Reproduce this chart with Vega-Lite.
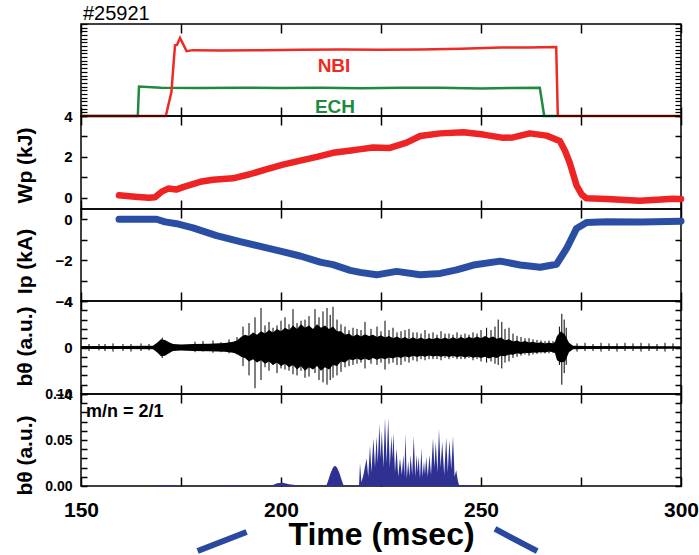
{
  "$schema": "https://vega.github.io/schema/vega-lite/v6.json",
  "padding": {"left": 13, "top": 3, "right": 0, "bottom": 0},
  "spacing": 0,
  "bounds": "flush",
  "config": {
    "font": "Liberation Sans",
    "view": {"stroke": "black", "strokeWidth": 1.5},
    "axis": {"grid": false, "domain": false, "tickColor": "black", "tickWidth": 1.5, "labelColor": "black", "titleColor": "black", "labelFont": "Liberation Sans", "titleFont": "Liberation Sans", "labelFontWeight": "bold", "titleFontWeight": "bold", "labelOverlap": false, "labelFlush": false}
  },
  "datasets": {
    "inj": [
      {"s": "ECH", "t": 150, "p": 0}, {"s": "ECH", "t": 164.2, "p": 0}, {"s": "ECH", "t": 164.5, "p": 8.0}, {"s": "ECH", "t": 170, "p": 7.7}, {"s": "ECH", "t": 180, "p": 7.6}, {"s": "ECH", "t": 190, "p": 7.7}, {"s": "ECH", "t": 200, "p": 7.6}, {"s": "ECH", "t": 210, "p": 7.65}, {"s": "ECH", "t": 220, "p": 7.55}, {"s": "ECH", "t": 230, "p": 7.7}, {"s": "ECH", "t": 240, "p": 7.65}, {"s": "ECH", "t": 250, "p": 7.5}, {"s": "ECH", "t": 257, "p": 7.6}, {"s": "ECH", "t": 264.7, "p": 7.7}, {"s": "ECH", "t": 265.8, "p": 0}, {"s": "ECH", "t": 268.8, "p": 0},
      {"s": "NBI", "t": 150, "p": 0}, {"s": "NBI", "t": 171.2, "p": 0}, {"s": "NBI", "t": 172.6, "p": 6.5}, {"s": "NBI", "t": 173.5, "p": 19.2}, {"s": "NBI", "t": 174.0, "p": 19.3}, {"s": "NBI", "t": 174.75, "p": 21.2}, {"s": "NBI", "t": 175.5, "p": 19.6}, {"s": "NBI", "t": 176.4, "p": 17.6}, {"s": "NBI", "t": 178, "p": 17.9}, {"s": "NBI", "t": 185, "p": 17.8}, {"s": "NBI", "t": 195, "p": 17.9}, {"s": "NBI", "t": 205, "p": 18.0}, {"s": "NBI", "t": 215, "p": 18.1}, {"s": "NBI", "t": 225, "p": 18.0}, {"s": "NBI", "t": 235, "p": 18.1}, {"s": "NBI", "t": 245, "p": 18.3}, {"s": "NBI", "t": 255, "p": 18.6}, {"s": "NBI", "t": 262, "p": 18.6}, {"s": "NBI", "t": 268.8, "p": 18.75}, {"s": "NBI", "t": 269.2, "p": 0}, {"s": "NBI", "t": 300, "p": 0}
    ],
    "injlab": [
      {"s": "NBI", "t": 213.25, "p": 13.6},
      {"s": "ECH", "t": 213.5, "p": 2.36}
    ],
    "wp": [
      {"t": 159.5, "v": 0.12}, {"t": 163.5, "v": 0.05}, {"t": 167, "v": 0.0}, {"t": 168.5, "v": 0.02}, {"t": 170.2, "v": 0.3}, {"t": 171.8, "v": 0.45}, {"t": 173.8, "v": 0.4}, {"t": 175.5, "v": 0.52}, {"t": 179.8, "v": 0.78}, {"t": 183, "v": 0.88}, {"t": 188, "v": 0.95}, {"t": 192.2, "v": 1.15}, {"t": 196.5, "v": 1.4}, {"t": 200.5, "v": 1.62}, {"t": 204.8, "v": 1.82}, {"t": 209, "v": 2.0}, {"t": 213, "v": 2.2}, {"t": 217, "v": 2.3}, {"t": 220, "v": 2.38}, {"t": 223, "v": 2.46}, {"t": 227.2, "v": 2.44}, {"t": 231.4, "v": 2.7}, {"t": 234.8, "v": 3.02}, {"t": 239.8, "v": 3.15}, {"t": 245.6, "v": 3.2}, {"t": 250.6, "v": 3.09}, {"t": 255.6, "v": 2.93}, {"t": 258, "v": 2.95}, {"t": 262.2, "v": 3.15}, {"t": 266.4, "v": 3.04}, {"t": 269.7, "v": 2.78}, {"t": 271, "v": 2.3}, {"t": 272.2, "v": 1.7}, {"t": 273.9, "v": 0.6}, {"t": 275.2, "v": 0.15}, {"t": 276.4, "v": -0.03}, {"t": 281.4, "v": -0.06}, {"t": 285, "v": -0.1}, {"t": 289.7, "v": -0.15}, {"t": 294, "v": -0.1}, {"t": 298, "v": -0.05}, {"t": 300, "v": -0.06}
    ],
    "ip": [
      {"t": 159.5, "v": 0}, {"t": 165, "v": 0}, {"t": 168.9, "v": 0}, {"t": 171, "v": -0.13}, {"t": 173.9, "v": -0.22}, {"t": 178, "v": -0.42}, {"t": 183.9, "v": -0.8}, {"t": 189.8, "v": -1.1}, {"t": 196.4, "v": -1.4}, {"t": 200.6, "v": -1.6}, {"t": 204.8, "v": -1.8}, {"t": 209.8, "v": -2.1}, {"t": 213, "v": -2.22}, {"t": 217.3, "v": -2.5}, {"t": 219.8, "v": -2.6}, {"t": 223.9, "v": -2.72}, {"t": 228.9, "v": -2.55}, {"t": 234.8, "v": -2.72}, {"t": 239.8, "v": -2.65}, {"t": 243.9, "v": -2.48}, {"t": 248.1, "v": -2.24}, {"t": 254.8, "v": -2.05}, {"t": 259.8, "v": -2.24}, {"t": 264.8, "v": -2.35}, {"t": 268.9, "v": -2.2}, {"t": 271.4, "v": -1.43}, {"t": 273.9, "v": -0.45}, {"t": 276.4, "v": -0.16}, {"t": 281.4, "v": -0.12}, {"t": 290, "v": -0.13}, {"t": 300, "v": -0.1}
    ],
    "bth": [
      {"t": 150, "lo": -0.12, "hi": 0.12}, {"t": 160, "lo": -0.12, "hi": 0.12}, {"t": 168, "lo": -0.15, "hi": 0.15}, {"t": 169, "lo": -0.4, "hi": 0.4}, {"t": 170, "lo": -0.75, "hi": 0.7}, {"t": 171, "lo": -0.7, "hi": 0.65}, {"t": 172, "lo": -0.5, "hi": 0.45}, {"t": 173, "lo": -0.3, "hi": 0.3}, {"t": 175, "lo": -0.25, "hi": 0.25}, {"t": 178, "lo": -0.3, "hi": 0.3}, {"t": 182, "lo": -0.32, "hi": 0.32}, {"t": 186, "lo": -0.36, "hi": 0.38},
      {"t": 188, "lo": -0.45, "hi": 0.5}, {"t": 189, "lo": -0.55, "hi": 0.6}, {"t": 190, "lo": -0.8, "hi": 0.9}, {"t": 191, "lo": -0.9, "hi": 1.1}, {"t": 192, "lo": -1.2, "hi": 1.0}, {"t": 193, "lo": -1.0, "hi": 1.3}, {"t": 194, "lo": -1.3, "hi": 1.1}, {"t": 195, "lo": -1.1, "hi": 1.4}, {"t": 196, "lo": -1.4, "hi": 1.2}, {"t": 197, "lo": -1.2, "hi": 1.5}, {"t": 198, "lo": -1.5, "hi": 1.3}, {"t": 199, "lo": -1.3, "hi": 1.6}, {"t": 200, "lo": -1.6, "hi": 1.4}, {"t": 201, "lo": -1.4, "hi": 1.7}, {"t": 202, "lo": -1.7, "hi": 1.5}, {"t": 203, "lo": -1.5, "hi": 1.9}, {"t": 204, "lo": -1.9, "hi": 1.6}, {"t": 205, "lo": -1.6, "hi": 2.0}, {"t": 206, "lo": -2.0, "hi": 1.7}, {"t": 207, "lo": -1.7, "hi": 1.9}, {"t": 208, "lo": -1.9, "hi": 1.6}, {"t": 209, "lo": -1.6, "hi": 2.0}, {"t": 210, "lo": -2.0, "hi": 1.7}, {"t": 211, "lo": -1.7, "hi": 1.9}, {"t": 212, "lo": -1.9, "hi": 1.6}, {"t": 213, "lo": -1.5, "hi": 1.8}, {"t": 214, "lo": -1.6, "hi": 1.4}, {"t": 215, "lo": -1.2, "hi": 1.4}, {"t": 216, "lo": -1.3, "hi": 1.1}, {"t": 217, "lo": -1.0, "hi": 1.2}, {"t": 218, "lo": -1.1, "hi": 0.95}, {"t": 219, "lo": -0.95, "hi": 1.15}, {"t": 220, "lo": -1.1, "hi": 0.95}, {"t": 221, "lo": -0.95, "hi": 1.15}, {"t": 222, "lo": -1.1, "hi": 1.0}, {"t": 223, "lo": -0.9, "hi": 1.1}, {"t": 224, "lo": -1.05, "hi": 0.9}, {"t": 225, "lo": -0.9, "hi": 1.05}, {"t": 226, "lo": -1.0, "hi": 0.85}, {"t": 227, "lo": -0.85, "hi": 1.0}, {"t": 228, "lo": -0.95, "hi": 0.8}, {"t": 229, "lo": -0.8, "hi": 0.95}, {"t": 230, "lo": -0.9, "hi": 0.75}, {"t": 231, "lo": -0.75, "hi": 0.9}, {"t": 232, "lo": -0.85, "hi": 0.72}, {"t": 233, "lo": -0.72, "hi": 0.88}, {"t": 234, "lo": -0.82, "hi": 0.7}, {"t": 235, "lo": -0.7, "hi": 0.85}, {"t": 236, "lo": -0.8, "hi": 0.68}, {"t": 237, "lo": -0.68, "hi": 0.82}, {"t": 238, "lo": -0.78, "hi": 0.7}, {"t": 239, "lo": -0.7, "hi": 0.85}, {"t": 240, "lo": -0.8, "hi": 0.7}, {"t": 241, "lo": -0.7, "hi": 0.86}, {"t": 242, "lo": -0.82, "hi": 0.72}, {"t": 243, "lo": -0.72, "hi": 0.88}, {"t": 244, "lo": -0.84, "hi": 0.74}, {"t": 245, "lo": -0.74, "hi": 0.9}, {"t": 246, "lo": -0.86, "hi": 0.76}, {"t": 247, "lo": -0.76, "hi": 0.92}, {"t": 248, "lo": -0.88, "hi": 0.78}, {"t": 249, "lo": -0.8, "hi": 0.95}, {"t": 250, "lo": -0.9, "hi": 0.8}, {"t": 251, "lo": -0.8, "hi": 0.98}, {"t": 252, "lo": -0.95, "hi": 0.82}, {"t": 253, "lo": -0.82, "hi": 0.95}, {"t": 254, "lo": -0.9, "hi": 0.75}, {"t": 255, "lo": -0.72, "hi": 0.85}, {"t": 256, "lo": -0.75, "hi": 0.62}, {"t": 257, "lo": -0.6, "hi": 0.7}, {"t": 258, "lo": -0.62, "hi": 0.52}, {"t": 259, "lo": -0.5, "hi": 0.6}, {"t": 260, "lo": -0.55, "hi": 0.45}, {"t": 261, "lo": -0.45, "hi": 0.55}, {"t": 262, "lo": -0.5, "hi": 0.42}, {"t": 263, "lo": -0.42, "hi": 0.5}, {"t": 264, "lo": -0.45, "hi": 0.38}, {"t": 265, "lo": -0.38, "hi": 0.45}, {"t": 266, "lo": -0.42, "hi": 0.35}, {"t": 267, "lo": -0.35, "hi": 0.42}, {"t": 268, "lo": -0.4, "hi": 0.35},
      {"t": 268.5, "lo": -0.5, "hi": 0.5}, {"t": 269, "lo": -1.1, "hi": 1.0}, {"t": 270, "lo": -1.3, "hi": 1.4}, {"t": 271, "lo": -1.2, "hi": 1.1}, {"t": 272, "lo": -0.4, "hi": 0.4}, {"t": 273, "lo": -0.15, "hi": 0.15}, {"t": 276, "lo": -0.12, "hi": 0.12}, {"t": 300, "lo": -0.1, "hi": 0.1}
    ],
    "spk": [
      {"t": 152, "lo": -0.3, "hi": 0.3}, {"t": 154.5, "lo": -0.25, "hi": 0.3}, {"t": 156, "lo": -0.3, "hi": 0.3}, {"t": 158, "lo": -0.35, "hi": 0.35}, {"t": 160.5, "lo": -0.3, "hi": 0.3}, {"t": 162.5, "lo": -0.35, "hi": 0.3}, {"t": 165, "lo": -0.3, "hi": 0.35}, {"t": 167, "lo": -0.25, "hi": 0.3},
      {"t": 170.3, "lo": -0.9, "hi": 0.85},
      {"t": 178.5, "lo": -0.4, "hi": 0.5}, {"t": 180.5, "lo": -0.35, "hi": 0.55}, {"t": 183, "lo": -0.45, "hi": 0.6}, {"t": 185, "lo": -0.4, "hi": 0.45}, {"t": 187, "lo": -0.5, "hi": 0.7}, {"t": 189, "lo": -0.6, "hi": 0.9},
      {"t": 190.5, "lo": -1.6, "hi": 1.8}, {"t": 192, "lo": -2.4, "hi": 2.1}, {"t": 193.5, "lo": -3.5, "hi": 2.6}, {"t": 195, "lo": -2.8, "hi": 3.4}, {"t": 196, "lo": -1.7, "hi": 1.9}, {"t": 197, "lo": -2.0, "hi": 2.2}, {"t": 198, "lo": -1.5, "hi": 1.7}, {"t": 199, "lo": -2.2, "hi": 1.9}, {"t": 200, "lo": -1.8, "hi": 2.3}, {"t": 201, "lo": -1.9, "hi": 2.6}, {"t": 202, "lo": -2.0, "hi": 2.0}, {"t": 203, "lo": -2.3, "hi": 3.3}, {"t": 204, "lo": -2.4, "hi": 2.1}, {"t": 205, "lo": -2.0, "hi": 2.3}, {"t": 206, "lo": -2.6, "hi": 2.4}, {"t": 207, "lo": -2.5, "hi": 2.7}, {"t": 208.5, "lo": -2.2, "hi": 3.3}, {"t": 209.5, "lo": -2.8, "hi": 2.6}, {"t": 210.5, "lo": -3.0, "hi": 3.1}, {"t": 211.5, "lo": -3.2, "hi": 3.4}, {"t": 212.3, "lo": -2.8, "hi": 2.8}, {"t": 213, "lo": -2.6, "hi": 3.5}, {"t": 214, "lo": -2.4, "hi": 2.4}, {"t": 215, "lo": -2.1, "hi": 2.0}, {"t": 216, "lo": -1.7, "hi": 1.8}, {"t": 217, "lo": -1.6, "hi": 1.5}, {"t": 218, "lo": -1.5, "hi": 1.7}, {"t": 219, "lo": -1.4, "hi": 1.6}, {"t": 220, "lo": -1.3, "hi": 1.5}, {"t": 221, "lo": -1.8, "hi": 2.2}, {"t": 222.5, "lo": -1.4, "hi": 1.6}, {"t": 224, "lo": -1.5, "hi": 1.8}, {"t": 225, "lo": -1.3, "hi": 1.4}, {"t": 226, "lo": -1.9, "hi": 2.3}, {"t": 227, "lo": -1.4, "hi": 1.5}, {"t": 228, "lo": -1.3, "hi": 1.7}, {"t": 229, "lo": -1.5, "hi": 1.3}, {"t": 230, "lo": -1.5, "hi": 1.4}, {"t": 231, "lo": -1.2, "hi": 1.5}, {"t": 232, "lo": -1.3, "hi": 1.6}, {"t": 233, "lo": -1.1, "hi": 1.3}, {"t": 234, "lo": -1.2, "hi": 1.3}, {"t": 235, "lo": -1.0, "hi": 1.2}, {"t": 236, "lo": -1.1, "hi": 1.5}, {"t": 237, "lo": -1.0, "hi": 1.2}, {"t": 238, "lo": -1.0, "hi": 1.3}, {"t": 239, "lo": -1.0, "hi": 1.1}, {"t": 240, "lo": -1.1, "hi": 1.4}, {"t": 241, "lo": -0.9, "hi": 1.2}, {"t": 242, "lo": -1.0, "hi": 1.2}, {"t": 243, "lo": -0.9, "hi": 1.1}, {"t": 244, "lo": -1.0, "hi": 1.3}, {"t": 245, "lo": -1.0, "hi": 1.1}, {"t": 246, "lo": -1.0, "hi": 1.2}, {"t": 247, "lo": -0.9, "hi": 1.1}, {"t": 248, "lo": -1.1, "hi": 1.3}, {"t": 249, "lo": -1.0, "hi": 1.2}, {"t": 250, "lo": -1.2, "hi": 1.5}, {"t": 251.4, "lo": -1.3, "hi": 1.7}, {"t": 252.5, "lo": -1.2, "hi": 1.5}, {"t": 253.5, "lo": -1.4, "hi": 1.8}, {"t": 254.3, "lo": -1.5, "hi": 2.4}, {"t": 255.2, "lo": -1.8, "hi": 2.2}, {"t": 256, "lo": -1.3, "hi": 1.6}, {"t": 257, "lo": -1.2, "hi": 1.7}, {"t": 258, "lo": -0.9, "hi": 1.2}, {"t": 259, "lo": -0.8, "hi": 1.0}, {"t": 260, "lo": -0.7, "hi": 0.9}, {"t": 261, "lo": -0.6, "hi": 0.8}, {"t": 262, "lo": -0.7, "hi": 0.8}, {"t": 263, "lo": -0.6, "hi": 0.7}, {"t": 264, "lo": -0.55, "hi": 0.65}, {"t": 265, "lo": -0.5, "hi": 0.6}, {"t": 266, "lo": -0.5, "hi": 0.55}, {"t": 267, "lo": -0.5, "hi": 0.6}, {"t": 268, "lo": -0.45, "hi": 0.55},
      {"t": 269.6, "lo": -1.5, "hi": 1.8}, {"t": 270.2, "lo": -3.2, "hi": 2.9}, {"t": 270.8, "lo": -2.2, "hi": 2.4}, {"t": 271.3, "lo": -1.5, "hi": 1.7},
      {"t": 274, "lo": -0.35, "hi": 0.35}, {"t": 276, "lo": -0.3, "hi": 0.4}, {"t": 278, "lo": -0.3, "hi": 0.3}, {"t": 280, "lo": -0.35, "hi": 0.4}, {"t": 282, "lo": -0.3, "hi": 0.35}, {"t": 284, "lo": -0.35, "hi": 0.35}, {"t": 286, "lo": -0.3, "hi": 0.4}, {"t": 288, "lo": -0.3, "hi": 0.35}, {"t": 290, "lo": -0.35, "hi": 0.4}, {"t": 292, "lo": -0.3, "hi": 0.35}, {"t": 294, "lo": -0.3, "hi": 0.3}, {"t": 296, "lo": -0.35, "hi": 0.4}, {"t": 298, "lo": -0.3, "hi": 0.35}
    ],
    "m21": [
      {"t": 150, "b": 0}, {"t": 168, "b": 0}, {"t": 170, "b": 0.001}, {"t": 173, "b": 0.001}, {"t": 175, "b": 0}, {"t": 185, "b": 0}, {"t": 186, "b": 0.0008}, {"t": 189, "b": 0.0008}, {"t": 190, "b": 0}, {"t": 197.5, "b": 0}, {"t": 199, "b": 0.003}, {"t": 200.5, "b": 0.0035}, {"t": 202, "b": 0.002}, {"t": 203.5, "b": 0.001}, {"t": 204.5, "b": 0},
      {"t": 211.3, "b": 0}, {"t": 211.8, "b": 0.006}, {"t": 212.4, "b": 0.014}, {"t": 213.0, "b": 0.02}, {"t": 213.5, "b": 0.022}, {"t": 214.0, "b": 0.02}, {"t": 214.6, "b": 0.014}, {"t": 215.2, "b": 0.006}, {"t": 215.7, "b": 0},
      {"t": 219.5, "b": 0}, {"t": 219.75, "b": 0.025}, {"t": 220.1, "b": 0.004}, {"t": 220.6, "b": 0.012}, {"t": 221.4, "b": 0.03}, {"t": 221.8, "b": 0.01}, {"t": 222.25, "b": 0.044}, {"t": 222.6, "b": 0.015}, {"t": 223.1, "b": 0.052}, {"t": 223.5, "b": 0.02}, {"t": 223.9, "b": 0.054}, {"t": 224.2, "b": 0.025}, {"t": 224.6, "b": 0.068}, {"t": 224.9, "b": 0.03}, {"t": 225.2, "b": 0.06}, {"t": 225.6, "b": 0.02}, {"t": 226.0, "b": 0.074}, {"t": 226.4, "b": 0.025}, {"t": 226.8, "b": 0.074}, {"t": 227.2, "b": 0.02}, {"t": 227.6, "b": 0.055}, {"t": 227.85, "b": 0.03}, {"t": 228.1, "b": 0.058}, {"t": 228.5, "b": 0.015}, {"t": 228.9, "b": 0.041}, {"t": 229.3, "b": 0.01}, {"t": 229.75, "b": 0.03}, {"t": 230.2, "b": 0.012}, {"t": 230.6, "b": 0.034}, {"t": 230.85, "b": 0.01}, {"t": 231.1, "b": 0.057}, {"t": 231.45, "b": 0.008}, {"t": 231.8, "b": 0.027}, {"t": 232.1, "b": 0.01}, {"t": 232.4, "b": 0.034}, {"t": 232.8, "b": 0.012}, {"t": 233.2, "b": 0.054}, {"t": 233.55, "b": 0.01}, {"t": 233.9, "b": 0.034}, {"t": 234.15, "b": 0.015}, {"t": 234.4, "b": 0.032}, {"t": 234.75, "b": 0.008}, {"t": 235.1, "b": 0.041}, {"t": 235.4, "b": 0.01}, {"t": 235.75, "b": 0.027}, {"t": 236.0, "b": 0.012}, {"t": 236.3, "b": 0.032}, {"t": 236.7, "b": 0.01}, {"t": 237.1, "b": 0.034}, {"t": 237.5, "b": 0.012}, {"t": 238.0, "b": 0.052}, {"t": 238.35, "b": 0.02}, {"t": 238.7, "b": 0.048}, {"t": 239.1, "b": 0.015}, {"t": 239.5, "b": 0.062}, {"t": 239.9, "b": 0.02}, {"t": 240.3, "b": 0.048}, {"t": 240.8, "b": 0.012}, {"t": 241.3, "b": 0.053}, {"t": 241.7, "b": 0.015}, {"t": 242.1, "b": 0.05}, {"t": 242.55, "b": 0.018}, {"t": 243.0, "b": 0.054}, {"t": 243.4, "b": 0.01}, {"t": 243.8, "b": 0.017}, {"t": 244.25, "b": 0.005}, {"t": 244.5, "b": 0.001}, {"t": 248, "b": 0.001}, {"t": 248.5, "b": 0}, {"t": 300, "b": 0}
    ],
    "deco": [
      {"t": 191.4, "b": -0.05, "t2": 179.15, "b2": -0.0707},
      {"t": 253.5, "b": -0.0467, "t2": 264.05, "b2": -0.0707}
    ],
    "mlab": [
      {"t": 151.25, "b": 0.0804, "s": "m/n = 2/1"}
    ]
  },
  "vconcat": [
    {
      "width": 600, "height": 92,
      "title": {"text": "#25921", "anchor": "start", "frame": "group", "fontSize": 20, "fontWeight": "normal", "offset": -1, "dx": 2, "color": "black", "font": "Liberation Sans"},
      "resolve": {"axis": {"x": "independent", "y": "independent"}},
      "layer": [
        {
          "data": {"name": "inj"},
          "mark": {"type": "line", "strokeWidth": 2.5},
          "encoding": {
            "x": {"field": "t", "type": "quantitative", "scale": {"domain": [150, 300], "nice": false, "zero": false}, "axis": {"orient": "bottom", "values": [150, 175, 200, 225, 250, 275, 300], "labels": false, "tickSize": -9, "title": null}},
            "y": {"field": "p", "type": "quantitative", "scale": {"domain": [0, 25], "nice": false}, "axis": {"orient": "left", "values": [0,1,2,3,4,5,6,7,8,9,10,11,12,13,14,15,16,17,18,19,20,21,22,23,24,25], "labels": false, "tickSize": -6, "tickWidth": 1.2, "title": null}},
            "color": {"field": "s", "type": "nominal", "scale": {"domain": ["NBI", "ECH"], "range": ["#ee2a24", "#1d8a3e"]}, "legend": null}
          }
        },
        {
          "data": {"name": "injlab"},
          "mark": {"type": "text", "fontSize": 19, "fontWeight": "bold", "baseline": "middle", "align": "center"},
          "encoding": {
            "x": {"field": "t", "type": "quantitative", "axis": {"orient": "top", "values": [150, 175, 200, 225, 250, 275, 300], "labels": false, "tickSize": -9, "title": null}},
            "y": {"field": "p", "type": "quantitative", "axis": {"orient": "right", "values": [0,1,2,3,4,5,6,7,8,9,10,11,12,13,14,15,16,17,18,19,20,21,22,23,24,25], "labels": false, "tickSize": -6, "tickWidth": 1.2, "title": null}},
            "text": {"field": "s"},
            "color": {"field": "s", "type": "nominal", "legend": null}
          }
        }
      ]
    },
    {
      "width": 600, "height": 93,
      "resolve": {"axis": {"x": "independent", "y": "independent"}},
      "layer": [
        {
          "data": {"name": "wp"},
          "mark": {"type": "line", "color": "#ee2424", "strokeWidth": 6.5, "strokeCap": "round", "strokeJoin": "round"},
          "encoding": {
            "x": {"field": "t", "type": "quantitative", "scale": {"domain": [150, 300], "nice": false, "zero": false}, "axis": {"orient": "bottom", "values": [150, 175, 200, 225, 250, 275, 300], "labels": false, "tickSize": -9, "title": null}},
            "y": {"field": "v", "type": "quantitative", "scale": {"domain": [-0.55, 4], "nice": false, "zero": false}, "axis": {"orient": "left", "values": [0, 1, 2, 3, 4], "labelExpr": "datum.value % 2 == 0 ? datum.label : ''", "tickSize": -6, "labelPadding": 15, "labelFontSize": 15, "title": "Wp (kJ)", "titleFontSize": 21, "titleX": -56, "titleY": 49, "titleAngle": -90, "titleBaseline": "middle", "titleAlign": "center"}}
          }
        },
        {
          "data": {"name": "wp"},
          "mark": {"type": "line", "opacity": 0},
          "encoding": {
            "x": {"field": "t", "type": "quantitative", "axis": {"orient": "top", "values": [150, 175, 200, 225, 250, 275, 300], "labels": false, "tickSize": -9, "title": null}},
            "y": {"field": "v", "type": "quantitative", "axis": {"orient": "right", "values": [0, 1, 2, 3, 4], "labels": false, "tickSize": -6, "title": null}}
          }
        }
      ]
    },
    {
      "width": 600, "height": 92,
      "resolve": {"axis": {"x": "independent", "y": "independent"}},
      "layer": [
        {
          "data": {"name": "ip"},
          "mark": {"type": "line", "color": "#2b4ea5", "strokeWidth": 7, "strokeCap": "round", "strokeJoin": "round"},
          "encoding": {
            "x": {"field": "t", "type": "quantitative", "scale": {"domain": [150, 300], "nice": false, "zero": false}, "axis": {"orient": "bottom", "values": [150, 175, 200, 225, 250, 275, 300], "labels": false, "tickSize": -9, "title": null}},
            "y": {"field": "v", "type": "quantitative", "scale": {"domain": [-4, 0.5], "nice": false, "zero": false}, "axis": {"orient": "left", "values": [-4, -3, -2, -1, 0], "labelExpr": "datum.value % 2 == 0 ? datum.label : ''", "tickSize": -6, "labelPadding": 15, "labelFontSize": 15, "title": "Ip (kA)", "titleFontSize": 21, "titleX": -56, "titleY": 52, "titleAngle": -90, "titleBaseline": "middle", "titleAlign": "center"}}
          }
        },
        {
          "data": {"name": "ip"},
          "mark": {"type": "line", "opacity": 0},
          "encoding": {
            "x": {"field": "t", "type": "quantitative", "axis": {"orient": "top", "values": [150, 175, 200, 225, 250, 275, 300], "labels": false, "tickSize": -9, "title": null}},
            "y": {"field": "v", "type": "quantitative", "axis": {"orient": "right", "values": [-4, -3, -2, -1, 0], "labels": false, "tickSize": -6, "title": null}}
          }
        }
      ]
    },
    {
      "width": 600, "height": 93,
      "resolve": {"axis": {"x": "independent", "y": "independent"}},
      "layer": [
        {
          "data": {"name": "bth"},
          "mark": {"type": "area", "color": "black", "opacity": 1},
          "encoding": {
            "x": {"field": "t", "type": "quantitative", "scale": {"domain": [150, 300], "nice": false, "zero": false}, "axis": {"orient": "bottom", "values": [150, 175, 200, 225, 250, 275, 300], "labels": false, "tickSize": -9, "title": null}},
            "y": {"field": "lo", "type": "quantitative", "scale": {"domain": [-4, 4], "nice": false, "zero": false}, "axis": {"orient": "left", "values": [-4, -3.2, -2.4, -1.6, -0.8, 0, 0.8, 1.6, 2.4, 3.2, 4], "labelExpr": "datum.value == 0 || abs(datum.value) == 4 ? datum.label : ''", "tickSize": -6, "labelPadding": 15, "labelFontSize": 15, "title": "bθ (a.u.)", "titleFontSize": 21, "titleX": -56, "titleY": 45, "titleAngle": -90, "titleBaseline": "middle", "titleAlign": "center"}},
            "y2": {"field": "hi"}
          }
        },
        {
          "data": {"name": "spk"},
          "mark": {"type": "rule", "color": "black", "strokeWidth": 1},
          "encoding": {
            "x": {"field": "t", "type": "quantitative", "axis": {"orient": "top", "values": [150, 175, 200, 225, 250, 275, 300], "labels": false, "tickSize": -9, "title": null}},
            "y": {"field": "lo", "type": "quantitative", "axis": {"orient": "right", "values": [-4, -3.2, -2.4, -1.6, -0.8, 0, 0.8, 1.6, 2.4, 3.2, 4], "labels": false, "tickSize": -6, "title": null}},
            "y2": {"field": "hi"}
          }
        }
      ]
    },
    {
      "width": 600, "height": 92,
      "resolve": {"axis": {"x": "independent", "y": "independent"}},
      "layer": [
        {
          "data": {"name": "m21"},
          "mark": {"type": "area", "color": "#2e3191", "opacity": 1},
          "encoding": {
            "x": {"field": "t", "type": "quantitative", "scale": {"domain": [150, 300], "nice": false, "zero": false}, "axis": {"orient": "bottom", "values": [150, 175, 200, 225, 250, 275, 300], "labelExpr": "datum.value % 50 == 0 ? datum.label : ''", "labelFontSize": 21, "labelPadding": 22, "tickSize": -9, "title": "Time (msec)", "titleFontSize": 32, "titleBaseline": "alphabetic", "titleX": 300, "titleY": 58}},
            "y": {"field": "b", "type": "quantitative", "scale": {"domain": [0, 0.1], "nice": false}, "axis": {"orient": "left", "values": [0, 0.01, 0.02, 0.03, 0.04, 0.05, 0.06, 0.07, 0.08, 0.09, 0.1], "format": ".2f", "labelExpr": "round(datum.value * 100) % 5 == 0 ? datum.label : ''", "tickSize": -6, "labelPadding": 15, "labelFontSize": 14, "title": "bθ (a.u.)", "titleFontSize": 21, "titleX": -56, "titleY": 61, "titleAngle": -90, "titleBaseline": "middle", "titleAlign": "center"}}
          }
        },
        {
          "data": {"name": "deco"},
          "mark": {"type": "rule", "color": "#2a48a0", "strokeWidth": 6, "strokeCap": "butt", "clip": false},
          "encoding": {
            "x": {"field": "t", "type": "quantitative", "axis": {"orient": "top", "values": [150, 175, 200, 225, 250, 275, 300], "labels": false, "tickSize": -9, "title": null}},
            "y": {"field": "b", "type": "quantitative", "axis": {"orient": "right", "values": [0, 0.01, 0.02, 0.03, 0.04, 0.05, 0.06, 0.07, 0.08, 0.09, 0.1], "labels": false, "tickSize": -6, "title": null}},
            "x2": {"field": "t2"},
            "y2": {"field": "b2"}
          }
        },
        {
          "data": {"name": "mlab"},
          "mark": {"type": "text", "fontSize": 18, "fontWeight": "bold", "align": "left", "baseline": "middle", "color": "black"},
          "encoding": {
            "x": {"field": "t", "type": "quantitative", "axis": null},
            "y": {"field": "b", "type": "quantitative", "axis": null},
            "text": {"field": "s"}
          }
        }
      ]
    }
  ]
}
